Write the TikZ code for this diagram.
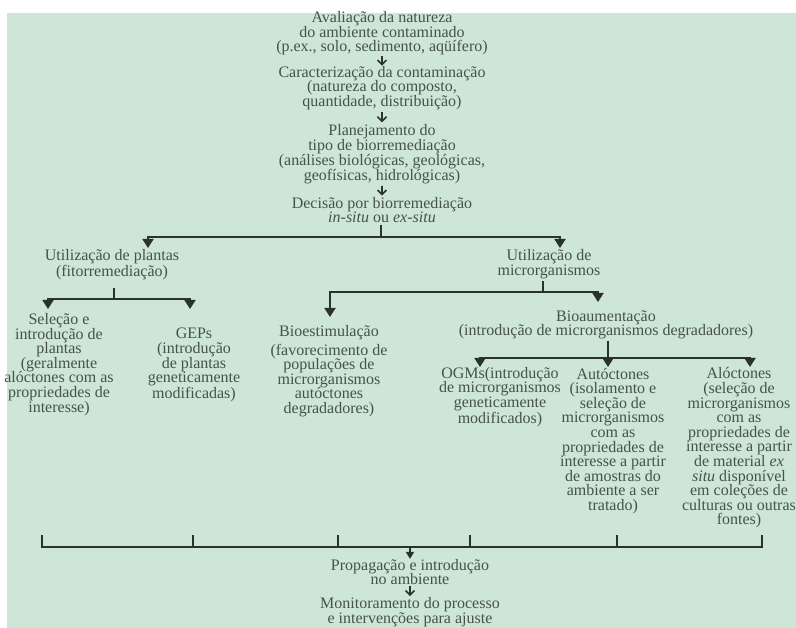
\documentclass[tikz,border=0pt]{standalone}
\usepackage{fontspec}
\setmainfont{Liberation Serif}
\usetikzlibrary{arrows.meta,calc}
\definecolor{bg}{HTML}{CDE6D6}
\definecolor{txt}{HTML}{46524B}
\definecolor{ln}{HTML}{2A322D}
\begin{document}
\begin{tikzpicture}[x=1pt,y=-1pt,
  lbl/.style={align=center,inner sep=0pt,text=txt,font=\fontsize{16}{14.6}\selectfont},
  conn/.style={draw=ln,line width=1.8pt},
  arr/.style={conn,-{Triangle[width=11pt,length=9pt]}},
  parr/.style={conn,-{Triangle[width=8pt,length=7pt]}},
  sarr/.style={draw=ln,line width=1.6pt,-{Straight Barb[width=9pt,length=4.5pt]}}
]
\useasboundingbox (0,0) rectangle (796,628);
\fill[bg] (7,13) rectangle (796,628);

% main column
\node[lbl] (A) at (382,33.5) {Avaliação da natureza\\do ambiente contaminado\\(p.ex., solo, sedimento, aqüífero)};
\node[lbl] (B) at (382,88) {Caracterização da contaminação\\(natureza do composto,\\quantidade, distribuição)};
\node[lbl] (C) at (382,154.5) {Planejamento do\\tipo de biorremediação\\(análises biológicas, geológicas,\\geofísicas, hidrológicas)};
\node[lbl] (D) at (382,210) {Decisão por biorremediação\\\textit{in-situ} ou \textit{ex-situ}};

\draw[sarr] ($(A.south)!0.5!(B.north)+(0,-5)$) -- ++(0,10);
\draw[sarr] ($(B.south)!0.5!(C.north)+(0,-5)$) -- ++(0,10);
\draw[sarr] ($(C.south)!0.5!(D.north)+(0,-5)$) -- ++(0,10);

% first split
\coordinate (j1) at (381,237);
\coordinate (eL) at (148,248);
\coordinate (eR) at (560,248);
\draw[conn,shorten <=2pt] (D.south -| j1) -- (j1);
\draw[arr] (j1) -| (eL);
\draw[arr] (j1) -| (eR);

\node[lbl] (E) at (112,264.5) {Utilização de plantas\\(fitorremediação)};
\node[lbl] (F) at (549,264) {Utilização de\\microrganismos};

% plants split
\coordinate (j2) at (114,299);
\coordinate (gL) at (48,309);
\coordinate (gR) at (190,309);
\draw[conn,shorten <=8pt] (E.south -| j2) -- (j2);
\draw[arr] (j2) -| (gL);
\draw[arr] (j2) -| (gR);

\node[lbl] (G) at (59,364.5) {Seleção e\\introdução de\\plantas\\(geralmente\\alóctones com as\\propriedades de\\interesse)};
\node[lbl] (H) at (194,365) {GEPs\\(introdução\\de plantas\\geneticamente\\modificadas)};

% microorganisms split
\coordinate (j3) at (543,292);
\coordinate (bL) at (330,317);
\coordinate (bR) at (598,302);
\draw[conn,shorten <=2pt] (F.south -| j3) -- (j3);
\draw[arr] (j3) -| (bL);
\draw[arr] (j3) -| (bR);

\node[lbl] (J) at (329,371) {Bioestimulação\\[3.4pt](favorecimento de\\populações de\\microrganismos\\autóctones\\degradadores)};
\node[lbl] (K) at (606,325) {Bioaumentação\\(introdução de microrganismos degradadores)};

% bioaugmentation split
\coordinate (j4) at (608,358);
\coordinate (cL) at (480,367);
\coordinate (cM) at (608,367);
\coordinate (cR) at (750,367);
\draw[arr,shorten <=1pt] (K.south -| cM) -- (cM);
\draw[arr] (j4) -| (cL);
\draw[arr] (j4) -| (cR);

\node[lbl] (L) at (500,397) {OGMs(introdução\\de microrganismos\\geneticamente\\modificados)};
\node[lbl] (M) at (613,441) {Autóctones\\(isolamento e\\seleção de\\microrganismos\\com as\\propriedades de\\interesse a partir\\de amostras do\\ambiente a ser\\tratado)};
\node[lbl] (N) at (739,448) {Alóctones\\(seleção de\\microrganismos\\com as\\propriedades de\\interesse a partir\\de material \textit{ex}\\\textit{situ} disponível\\em coleções de\\culturas ou outras\\fontes)};

% bracket
\coordinate (t1) at (42,535);
\coordinate (t2) at (193,535);
\coordinate (t3) at (338,535);
\coordinate (t4) at (470,535);
\coordinate (t5) at (617,535);
\coordinate (t6) at (762,535);
\coordinate (u) at (0,547);
\draw[conn] (t1) -- (t1|-u) -- (t6|-u) -- (t6);
\foreach \i in {2,...,5} \draw[conn] (t\i) -- (t\i|-u);

\node[lbl] (P) at (410,572) {Propagação e introdução\\no ambiente};
\node[lbl] (Q) at (410,612) {Monitoramento do processo\\e intervenções para ajuste};
\coordinate (pz) at (410,547);
\draw[parr] (pz) -- (P.north);
\draw[sarr] ($(P.south)!0.5!(Q.north)+(0,-5)$) -- ++(0,10);
\end{tikzpicture}
\end{document}
